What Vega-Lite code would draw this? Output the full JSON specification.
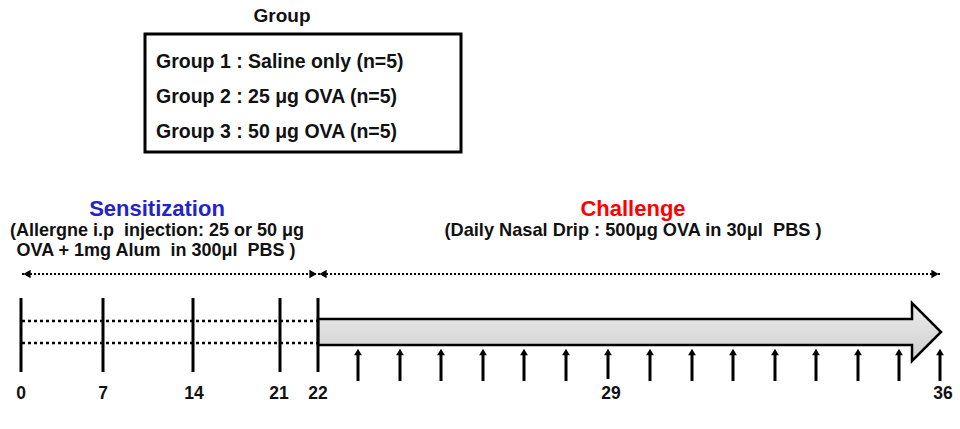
{
  "$schema": "https://vega.github.io/schema/vega-lite/v6.json",
  "width": 960,
  "height": 429,
  "autosize": {"type": "fit", "contains": "padding"},
  "padding": 0,
  "background": "white",
  "config": {"view": {"stroke": null}, "font": "Liberation Sans"},
  "datasets": {
    "box": [{"x": 145, "x2": 461, "y": 34, "y2": 152}],
    "titles": [
      {"label": "Group", "x": 282, "y": 16, "role": "heading"},
      {"label": "Group 1 : Saline only (n=5)", "x": 156, "y": 62, "role": "group"},
      {"label": "Group 2 : 25 μg OVA (n=5)", "x": 156, "y": 97, "role": "group"},
      {"label": "Group 3 : 50 μg OVA (n=5)", "x": 156, "y": 132, "role": "group"},
      {"label": "Sensitization", "x": 157, "y": 209, "role": "sensitization"},
      {"label": "Challenge", "x": 633, "y": 209, "role": "challenge"},
      {"label": "(Allergne i.p\u00a0 injection: 25 or 50 μg", "x": 157, "y": 231, "role": "detail"},
      {"label": "OVA + 1mg Alum\u00a0 in 300μl\u00a0 PBS )", "x": 156, "y": 251, "role": "detail"},
      {"label": "(Daily Nasal Drip : 500μg OVA in 30μl\u00a0 PBS )", "x": 633, "y": 231, "role": "detail2"}
    ],
    "spans": [
      {"phase": "Sensitization", "x": 22, "x2": 318, "y": 274},
      {"phase": "Challenge", "x": 318, "x2": 940, "y": 274}
    ],
    "spanHeads": [
      {"end": "start", "x": 27, "y": 274, "dir": "left"},
      {"end": "end", "x": 313, "y": 274, "dir": "right"},
      {"end": "start", "x": 323, "y": 274, "dir": "left"},
      {"end": "end", "x": 935, "y": 274, "dir": "right"}
    ],
    "groupLines": [
      {"x": 22, "x2": 318, "y": 321},
      {"x": 22, "x2": 318, "y": 343}
    ],
    "challengeBar": [{"x": 629.5, "y": 332}],
    "ticks": [
      {"day": 0, "x": 21, "y": 298, "y2": 372},
      {"day": 7, "x": 103, "y": 298, "y2": 372},
      {"day": 14, "x": 193, "y": 298, "y2": 372},
      {"day": 21, "x": 280, "y": 298, "y2": 372},
      {"day": 22, "x": 318, "y": 298, "y2": 372}
    ],
    "drips": [
      {"x": 358, "y": 381, "y2": 352}, {"x": 400, "y": 381, "y2": 352},
      {"x": 441, "y": 381, "y2": 352}, {"x": 483, "y": 381, "y2": 352},
      {"x": 524, "y": 381, "y2": 352}, {"x": 566, "y": 381, "y2": 352},
      {"x": 608, "y": 379, "y2": 352}, {"x": 650, "y": 381, "y2": 352},
      {"x": 692, "y": 381, "y2": 352}, {"x": 733, "y": 381, "y2": 352},
      {"x": 775, "y": 381, "y2": 352}, {"x": 816, "y": 381, "y2": 352},
      {"x": 858, "y": 381, "y2": 352}, {"x": 899, "y": 381, "y2": 352},
      {"x": 940, "y": 381, "y2": 352}
    ],
    "dayLabels": [
      {"label": "0", "x": 21, "y": 394},
      {"label": "7", "x": 103, "y": 394},
      {"label": "14", "x": 194, "y": 394},
      {"label": "21", "x": 279, "y": 394},
      {"label": "22", "x": 318, "y": 394},
      {"label": "29", "x": 611, "y": 394},
      {"label": "36", "x": 943, "y": 394}
    ]
  },
  "encoding": {
    "x": {"field": "x", "type": "quantitative", "scale": {"domain": [0, 960], "nice": false, "zero": false}, "axis": null},
    "y": {"field": "y", "type": "quantitative", "scale": {"domain": [0, 429], "nice": false, "zero": false, "reverse": true}, "axis": null}
  },
  "layer": [
    {
      "data": {"name": "box"},
      "mark": {"type": "rect", "fill": "white", "stroke": "black", "strokeWidth": 3},
      "encoding": {"x2": {"field": "x2"}, "y2": {"field": "y2"}}
    },
    {
      "data": {"name": "titles"},
      "transform": [{"filter": "datum.role === 'heading'"}],
      "mark": {"type": "text", "fontSize": 19, "fontWeight": "bold", "align": "center", "baseline": "middle", "color": "#111"},
      "encoding": {"text": {"field": "label"}}
    },
    {
      "data": {"name": "titles"},
      "transform": [{"filter": "datum.role === 'group'"}],
      "mark": {"type": "text", "fontSize": 19.5, "fontWeight": "bold", "align": "left", "baseline": "middle", "color": "#111"},
      "encoding": {"text": {"field": "label"}}
    },
    {
      "data": {"name": "titles"},
      "transform": [{"filter": "datum.role === 'sensitization'"}],
      "mark": {"type": "text", "fontSize": 22, "fontWeight": "bold", "align": "center", "baseline": "middle", "color": "#2323c8"},
      "encoding": {"text": {"field": "label"}}
    },
    {
      "data": {"name": "titles"},
      "transform": [{"filter": "datum.role === 'challenge'"}],
      "mark": {"type": "text", "fontSize": 22, "fontWeight": "bold", "align": "center", "baseline": "middle", "color": "#ff0000"},
      "encoding": {"text": {"field": "label"}}
    },
    {
      "data": {"name": "titles"},
      "transform": [{"filter": "datum.role === 'detail'"}],
      "mark": {"type": "text", "fontSize": 18, "fontWeight": "bold", "align": "center", "baseline": "middle", "color": "#111"},
      "encoding": {"text": {"field": "label"}}
    },
    {
      "data": {"name": "titles"},
      "transform": [{"filter": "datum.role === 'detail2'"}],
      "mark": {"type": "text", "fontSize": 18.2, "fontWeight": "bold", "align": "center", "baseline": "middle", "color": "#111"},
      "encoding": {"text": {"field": "label"}}
    },
    {
      "data": {"name": "spans"},
      "mark": {"type": "rule", "color": "black", "strokeWidth": 2, "strokeDash": [2, 2]},
      "encoding": {"x2": {"field": "x2"}}
    },
    {
      "data": {"name": "spanHeads"},
      "transform": [{"filter": "datum.dir === 'left'"}],
      "mark": {"type": "point", "shape": "triangle-left", "filled": true, "color": "black", "opacity": 1, "size": 70}
    },
    {
      "data": {"name": "spanHeads"},
      "transform": [{"filter": "datum.dir === 'right'"}],
      "mark": {"type": "point", "shape": "triangle-right", "filled": true, "color": "black", "opacity": 1, "size": 70}
    },
    {
      "data": {"name": "groupLines"},
      "mark": {"type": "rule", "color": "black", "strokeWidth": 2.5, "strokeDash": [3, 3]},
      "encoding": {"x2": {"field": "x2"}}
    },
    {
      "data": {"name": "challengeBar"},
      "mark": {
        "type": "point",
        "shape": "M -1 -0.0417 L 0.9069 -0.0417 L 0.9069 -0.0931 L 1 0 L 0.9069 0.0931 L 0.9069 0.0417 L -1 0.0417 Z",
        "size": 388129,
        "filled": true,
        "opacity": 1,
        "fill": {"gradient": "linear", "x1": 0, "y1": 0, "x2": 0, "y2": 1, "stops": [{"offset": 0, "color": "#ececec"}, {"offset": 1, "color": "#cfcfcf"}]},
        "stroke": "black",
        "strokeWidth": 2.5,
        "strokeJoin": "miter"
      }
    },
    {
      "data": {"name": "ticks"},
      "mark": {"type": "rule", "color": "black", "strokeWidth": 3},
      "encoding": {"y2": {"field": "y2"}}
    },
    {
      "data": {"name": "drips"},
      "mark": {"type": "rule", "color": "black", "strokeWidth": 3},
      "encoding": {"y2": {"field": "y2"}}
    },
    {
      "data": {"name": "drips"},
      "mark": {"type": "point", "shape": "triangle-up", "filled": true, "color": "black", "opacity": 1, "size": 60},
      "encoding": {"y": {"field": "y2", "type": "quantitative"}}
    },
    {
      "data": {"name": "dayLabels"},
      "mark": {"type": "text", "fontSize": 17.5, "fontWeight": "bold", "align": "center", "baseline": "middle", "color": "#111"},
      "encoding": {"text": {"field": "label"}}
    }
  ]
}
